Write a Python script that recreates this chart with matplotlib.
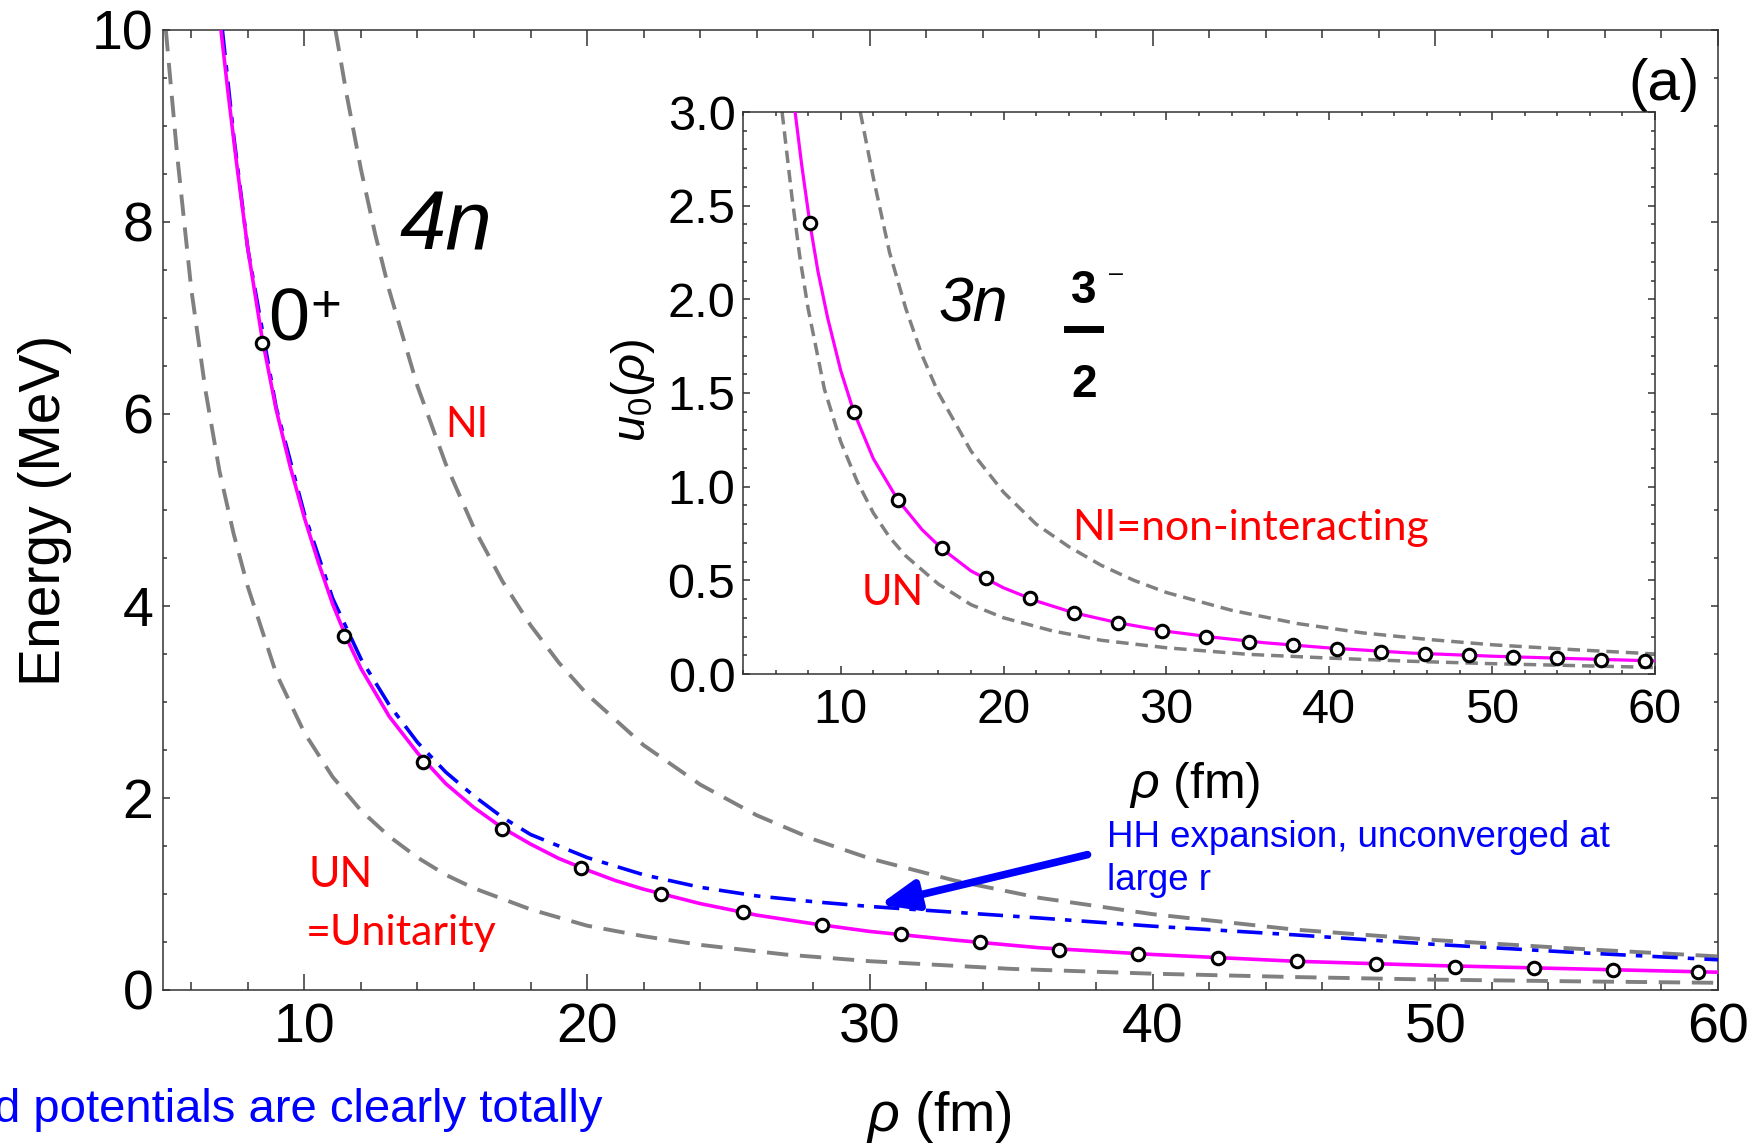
import matplotlib
matplotlib.use('Agg')
import matplotlib.pyplot as plt
from matplotlib.lines import Line2D
from matplotlib.ticker import MultipleLocator, FormatStrFormatter

plt.rcParams['font.family'] = ['Liberation Sans', 'DejaVu Sans']
plt.rcParams['mathtext.fontset'] = 'custom'
plt.rcParams['mathtext.rm'] = 'Liberation Sans'
plt.rcParams['mathtext.it'] = 'Liberation Sans:italic'
plt.rcParams['mathtext.bf'] = 'Liberation Sans:bold'

# ---------------- main panel (4n, 0+) ----------------
un_rho = [7.05, 7.3, 7.6, 8.0, 8.5, 9.0, 9.5, 10, 10.5, 11, 11.5, 12, 13, 14, 15, 16, 17, 18, 19, 20,
          21, 22, 24, 26, 28, 30, 33, 36, 40, 45, 50, 55, 60]
un_E = [10.0, 9.35, 8.62, 7.72, 6.8, 6.05, 5.45, 4.92, 4.45, 4.02, 3.66, 3.35, 2.85, 2.47, 2.15, 1.9,
        1.69, 1.52, 1.37, 1.25, 1.14, 1.05, 0.9, 0.78, 0.69, 0.61, 0.52, 0.44, 0.37, 0.3, 0.255, 0.22, 0.185]

ni_rho = [11.1, 11.5, 12, 12.5, 13, 14, 15, 16, 17, 18, 19, 20, 22, 24, 26, 28, 30, 33, 36, 40, 45, 50, 55, 60]
ni_E = [10.0, 9.32, 8.55, 7.88, 7.29, 6.29, 5.48, 4.81, 4.26, 3.80, 3.41, 3.08, 2.55, 2.14, 1.82, 1.57,
        1.37, 1.14, 0.96, 0.79, 0.63, 0.52, 0.43, 0.35]

low_rho = [5.1, 5.5, 6.0, 6.5, 7.0, 7.5, 8.0, 9.0, 10, 11, 12, 13, 14, 15, 16, 18, 20, 22, 24, 27, 30,
           35, 40, 45, 50, 55, 60]
low_E = [10.0, 8.7, 7.3, 6.25, 5.4, 4.75, 4.2, 3.3, 2.68, 2.22, 1.87, 1.6, 1.38, 1.2, 1.06, 0.84, 0.67,
         0.56, 0.47, 0.37, 0.3, 0.22, 0.17, 0.135, 0.108, 0.09, 0.075]

hh_rho = [7.1, 7.5, 8, 9, 10, 11, 12, 13, 14, 15, 16, 17, 18, 20, 22, 24, 26, 28, 30, 33, 36, 40, 45,
          50, 55, 60]
hh_E = [10.0, 8.9, 7.72, 6.07, 4.96, 4.08, 3.45, 2.97, 2.58, 2.27, 2.02, 1.8, 1.62, 1.38, 1.2, 1.07,
        0.98, 0.92, 0.87, 0.81, 0.75, 0.665, 0.575, 0.475, 0.39, 0.315]

pts_rho = [8.5, 11.4, 14.2, 17.0, 19.8, 22.6, 25.5, 28.3, 31.1, 33.9, 36.7, 39.5, 42.3, 45.1, 47.9,
           50.7, 53.5, 56.3, 59.3]
pts_E = [6.74, 3.69, 2.38, 1.68, 1.27, 1.00, 0.81, 0.68, 0.58, 0.50, 0.42, 0.38, 0.33, 0.30, 0.27,
         0.24, 0.225, 0.21, 0.19]

main_xticks = [10, 20, 30, 40, 50, 60]
main_yticks = [0, 2, 4, 6, 8, 10]

# ---------------- inset (3n, 3/2-) ----------------
in_un_rho = [7.2, 7.6, 8.1, 8.6, 9.2, 10, 10.8, 12, 13.5, 15, 16.2, 18, 20, 22, 24.3, 27, 30, 33, 36,
             40, 45, 50, 55, 60]
in_un_u = [3.0, 2.72, 2.41, 2.15, 1.9, 1.62, 1.40, 1.15, 0.93, 0.77, 0.67, 0.55, 0.46, 0.39, 0.327,
           0.274, 0.228, 0.195, 0.167, 0.139, 0.112, 0.095, 0.082, 0.07]

in_ni_rho = [11.2, 12, 13, 14, 15, 16, 18, 20, 22, 24, 26, 28, 30, 34, 38, 42, 46, 50, 55, 60]
in_ni_u = [3.0, 2.65, 2.25, 1.95, 1.7, 1.5, 1.19, 0.97, 0.8, 0.68, 0.58, 0.5, 0.435, 0.34, 0.27,
           0.22, 0.185, 0.156, 0.13, 0.107]

in_low_rho = [6.4, 7, 7.5, 8, 9, 10, 11, 12, 13, 14, 16, 18, 20, 23, 26, 30, 35, 40, 45, 50, 55, 60]
in_low_u = [3.0, 2.55, 2.22, 1.95, 1.52, 1.24, 1.03, 0.86, 0.73, 0.63, 0.48, 0.37, 0.3, 0.23, 0.18,
            0.14, 0.105, 0.085, 0.068, 0.055, 0.045, 0.035]

in_pts_rho = [8.1, 10.8, 13.5, 16.2, 18.9, 21.6, 24.3, 27.0, 29.7, 32.4, 35.1, 37.8, 40.5, 43.2,
              45.9, 48.6, 51.3, 54.0, 56.7, 59.4]
in_pts_u = [2.41, 1.40, 0.93, 0.67, 0.51, 0.404, 0.327, 0.274, 0.232, 0.20, 0.173, 0.154, 0.136,
            0.12, 0.108, 0.099, 0.092, 0.083, 0.076, 0.071]

in_xticks = [10, 20, 30, 40, 50, 60]
in_yticks = [0.0, 0.5, 1.0, 1.5, 2.0, 2.5, 3.0]

GRAY = '#808080'
MAG = '#FF00FF'
SPINE = '#333333'

W, H = 1758, 1147
fig = plt.figure(figsize=(W / 100, H / 100), dpi=100)

def fx(px):
    return px / W

def fy(py):
    return 1 - py / H

# ---------- main axes ----------
ax = fig.add_axes([fx(163), fy(990), (1718 - 163) / W, (990 - 30) / H])
ax.set_xlim(5, 60)
ax.set_ylim(0, 10)
ax.plot(low_rho, low_E, color=GRAY, lw=2.8, dashes=(5.5, 3.0), zorder=2)
ax.plot(ni_rho, ni_E, color=GRAY, lw=2.8, dashes=(5.5, 3.0), zorder=2)
ax.plot(hh_rho, hh_E, color='#0000FF', lw=2.6, dashes=(7.0, 2.8, 1.8, 2.8), zorder=3)
ax.plot(un_rho, un_E, color=MAG, lw=2.6, zorder=4)
ax.plot(pts_rho, pts_E, ls='none', marker='o', ms=9, mew=2.2, mfc='white', mec='black', zorder=5)

ax.set_xticks(main_xticks)
ax.set_yticks(main_yticks)
ax.xaxis.set_minor_locator(MultipleLocator(2))
ax.yaxis.set_minor_locator(MultipleLocator(0.5))
ax.tick_params(which='both', direction='in', top=True, right=True, color=SPINE, width=1.1)
ax.tick_params(axis='both', which='major', labelsize=40)
ax.tick_params(axis='x', which='major', length=11.5, pad=9)
ax.tick_params(axis='x', which='minor', length=5.8)
ax.tick_params(axis='y', which='major', length=5.2, pad=7)
ax.tick_params(axis='y', which='minor', length=2.6)
for s in ax.spines.values():
    s.set_color(SPINE)
    s.set_linewidth(1.1)

ax.text(13.35, 7.71, '4n', fontsize=60, style='italic', ha='left', va='baseline')
ax.text(8.72, 6.77, '0', fontsize=53, ha='left', va='baseline')
ax.text(10.2, 6.96, '+', fontsize=38, ha='left', va='baseline')
ax.text(15.0, 5.76, 'NI', fontsize=30, color='red', family='Lato', ha='left', va='baseline')
ax.text(10.15, 1.07, 'UN', fontsize=31, color='red', family='Lato', ha='left', va='baseline')
ax.text(10.05, 0.47, '=Unitarity', fontsize=31, color='red', family='Lato', ha='left', va='baseline')
ax.text(38.4, 1.49, 'HH expansion, unconverged at', fontsize=26.4, color='#0000FF', ha='left', va='baseline')
ax.text(38.4, 1.04, 'large r', fontsize=26.4, color='#0000FF', ha='left', va='baseline')
ax.text(58.08, 9.27, '(a)', fontsize=42, ha='center', va='baseline')
ax.annotate('', xy=(30.35, 0.89), xytext=(37.7, 1.41),
            arrowprops=dict(arrowstyle='-|>,head_length=1.1,head_width=0.45', lw=5.5,
                            color='#0000FF', mutation_scale=20, shrinkA=0, shrinkB=0))

# ---------- inset ----------
ai = fig.add_axes([fx(743), fy(674), (1655 - 743) / W, (674 - 112) / H])
ai.set_facecolor('white')
ai.set_xlim(4, 60)
ai.set_ylim(0, 3)
ai.plot(in_low_rho, in_low_u, color=GRAY, lw=2.5, dashes=(3.6, 2.0), zorder=2)
ai.plot(in_ni_rho, in_ni_u, color=GRAY, lw=2.5, dashes=(3.6, 2.0), zorder=2)
ai.plot(in_un_rho, in_un_u, color=MAG, lw=2.3, zorder=3)
ai.plot(in_pts_rho, in_pts_u, ls='none', marker='o', ms=9, mew=2.2, mfc='white', mec='black', zorder=4)
ai.set_xticks(in_xticks)
ai.set_yticks(in_yticks)
ai.yaxis.set_major_formatter(FormatStrFormatter('%.1f'))
ai.xaxis.set_minor_locator(MultipleLocator(2))
ai.yaxis.set_minor_locator(MultipleLocator(0.1))
ai.tick_params(which='both', direction='in', top=True, right=True, color=SPINE, width=1.1)
ai.tick_params(axis='both', which='major', labelsize=35)
ai.tick_params(axis='x', which='major', length=5.8, pad=10)
ai.tick_params(axis='x', which='minor', length=3.0)
ai.tick_params(axis='y', which='major', length=5.2, pad=5.5)
ai.tick_params(axis='y', which='minor', length=2.8)
for s in ai.spines.values():
    s.set_color(SPINE)
    s.set_linewidth(1.1)

ai.text(16.0, 1.88, '3n', fontsize=45, style='italic', ha='left', va='baseline')
ai.text(24.95, 1.98, '3', fontsize=33, weight='bold', ha='center', va='baseline')
ai.text(24.95, 1.476, '2', fontsize=33, weight='bold', ha='center', va='baseline')
ai.text(26.9, 2.10, '\u2013', fontsize=18, ha='center', va='baseline')
ai.text(24.2, 0.717, 'NI=non-interacting', fontsize=30.7, color='red', family='Lato', ha='left', va='baseline')
ai.text(11.26, 0.369, 'UN', fontsize=30, color='red', family='Lato', ha='left', va='baseline')
# fraction bar of the 3/2 label
fig.add_artist(Line2D([fx(1067), fx(1100)], [fy(329), fy(329)], lw=5.0, color='black'))

# ---------- axis labels & stray text ----------
fig.text(fx(45), fy(510), 'Energy (MeV)', rotation=90, ha='center', va='center', fontsize=41)
fig.text(fx(939), fy(1131), r'$\rho$ (fm)', ha='center', va='baseline', fontsize=40)
fig.text(fx(633), fy(390), r'$u_0(\rho)$', rotation=90, ha='center', va='center', fontsize=34)
fig.text(fx(1195), fy(798), r'$\rho$ (fm)', ha='center', va='baseline', fontsize=36)
fig.text(fx(602), fy(1122), 'd potentials are clearly totally', ha='right', va='baseline',
         fontsize=34, color='#0000FF')

fig.savefig('out.png', dpi=100)
